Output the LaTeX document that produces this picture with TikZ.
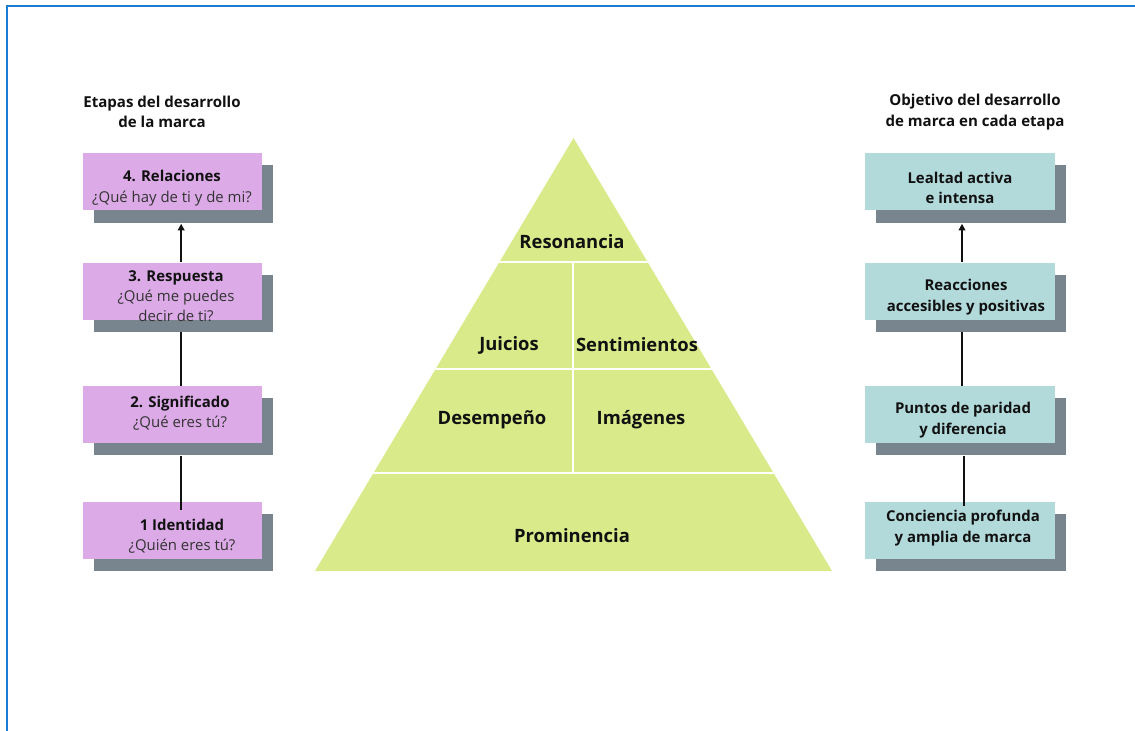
\documentclass[tikz,border=0pt]{standalone}
\usepackage{fontspec}
\setmainfont{Open Sans}
\usetikzlibrary{shadows,arrows.meta}
\definecolor{frameblue}{HTML}{1B7BD4}
\definecolor{stagepink}{HTML}{DCABE7}
\definecolor{goalteal}{HTML}{B3DADB}
\definecolor{shadowgray}{HTML}{78848E}
\definecolor{pyrgreen}{HTML}{D9EA8B}
\definecolor{inkdark}{HTML}{111111}
\definecolor{qgray}{HTML}{333333}
\tikzset{
  card/.style={rectangle, inner sep=0pt, minimum width=#1, minimum height=42.75pt,
    drop shadow={shadow xshift=8.25pt, shadow yshift=-9pt, fill=shadowgray, opacity=1}},
  stagebox/.style={card=134.25pt, fill=stagepink},
  goalbox/.style={card=142.5pt, fill=goalteal},
  cardtext/.style={align=center, inner sep=0pt, text=inkdark,
    font=\fontsize{11.2}{15.2}\selectfont},
  goaltext/.style={cardtext, font=\bfseries\fontsize{11.2}{15.2}\selectfont},
  headtext/.style={align=center, inner sep=0pt, text=inkdark,
    font=\bfseries\fontsize{11.3}{15.2}\selectfont},
  pyrtext/.style={inner sep=0pt, text=inkdark, font=\bfseries\fontsize{13.8}{16}\selectfont},
  link/.style={draw=inkdark, line width=1.5pt},
  linkarrow/.style={link, -{Triangle[width=5pt,length=5pt]}},
  divider/.style={draw=white, line width=1.9pt}
}
\newcommand{\qtext}[1]{{\color{qgray}#1}}
\begin{document}
\begin{tikzpicture}[x=0.75pt,y=-0.75pt]
  \useasboundingbox (0,0) rectangle (1135,731);
  \fill[white] (0,0) rectangle (1135,731);
  % outer frame
  \draw[frameblue, line width=2.2pt] (7,731) -- (7,6) -- (1135,6);

  % left column: brand development stages
  \node[headtext] (lefthead) at (162,112) {Etapas del desarrollo\\de la marca};
  \node[stagebox] (s4) at (172.5,182) {};
  \node[stagebox] (s3) at (172.5,291) {};
  \node[stagebox] (s2) at (172.5,414.5) {};
  \node[stagebox] (s1) at (172.5,530.5) {};
  \node[cardtext] (s4t) at (172,188) {\textbf{4. Relaciones}\\\qtext{¿Qué hay de ti y de mi?}};
  \node[cardtext] (s3t) at (176,296) {\textbf{3. Respuesta}\\\qtext{¿Qué me puedes}\\\qtext{decir de ti?}};
  \node[cardtext] (s2t) at (180,413) {\textbf{2. Significado}\\\qtext{¿Qué eres tú?}};
  \node[cardtext] (s1t) at (182,536) {\textbf{1 Identidad}\\\qtext{¿Quién eres tú?}};
  \draw[linkarrow] ([xshift=6.5pt]s3.north) -- ([xshift=6.5pt,yshift=-9.75pt]s4.south);
  \draw[link] ([xshift=6.5pt,yshift=-9pt]s3.south) -- ([xshift=6.5pt]s2.north);
  \draw[link] ([xshift=6pt,yshift=-9.75pt]s2.south) -- ([xshift=6pt,yshift=-6pt]s1.north);

  % right column: brand goals per stage
  \node[headtext] (righthead) at (975,112) {Objetivo del desarrollo\\de marca en cada etapa};
  \node[goalbox] (g4) at (960,182) {};
  \node[goalbox] (g3) at (960,291) {};
  \node[goalbox] (g2) at (960,414.5) {};
  \node[goalbox] (g1) at (960,530.5) {};
  \node[goaltext] (g4t) at (960,188) {Lealtad activa\\e intensa};
  \node[goaltext] (g3t) at (966,297) {Reacciones\\accesibles y positivas};
  \node[goaltext] (g2t) at (963,420) {Puntos de paridad\\y diferencia};
  \node[goaltext] (g1t) at (963,528) {Conciencia profunda\\y amplia de marca};
  \draw[linkarrow] ([xshift=1.5pt]g3.north) -- ([xshift=1.5pt,yshift=-9.75pt]g4.south);
  \draw[link] ([xshift=1.5pt,yshift=-9pt]g3.south) -- ([xshift=1.5pt]g2.north);
  \draw[link] ([xshift=3pt,yshift=-9.75pt]g2.south) -- ([xshift=3pt,yshift=-3pt]g1.north);

  % brand resonance pyramid
  \coordinate (apex) at (573.5,138);
  \coordinate (baseL) at (315,571);
  \coordinate (baseR) at (832,571);
  \fill[pyrgreen] (apex) -- (baseL) -- (baseR) -- cycle;
  \begin{scope}
    \clip (apex) -- (baseL) -- (baseR) -- cycle;
    \draw[divider] (300,262) -- (850,262);
    \draw[divider] (300,369) -- (850,369);
    \draw[divider] (300,473) -- (850,473);
    \draw[divider] (573,262) -- (573,473);
  \end{scope}
  \node[pyrtext] (resonancia) at (572,242) {Resonancia};
  \node[pyrtext] (juicios) at (509,345) {Juicios};
  \node[pyrtext] (sentimientos) at (637,345) {Sentimientos};
  \node[pyrtext] (desempeno) at (492,420) {Desempeño};
  \node[pyrtext] (imagenes) at (641,420) {Imágenes};
  \node[pyrtext] (prominencia) at (572,536) {Prominencia};
\end{tikzpicture}
\end{document}
